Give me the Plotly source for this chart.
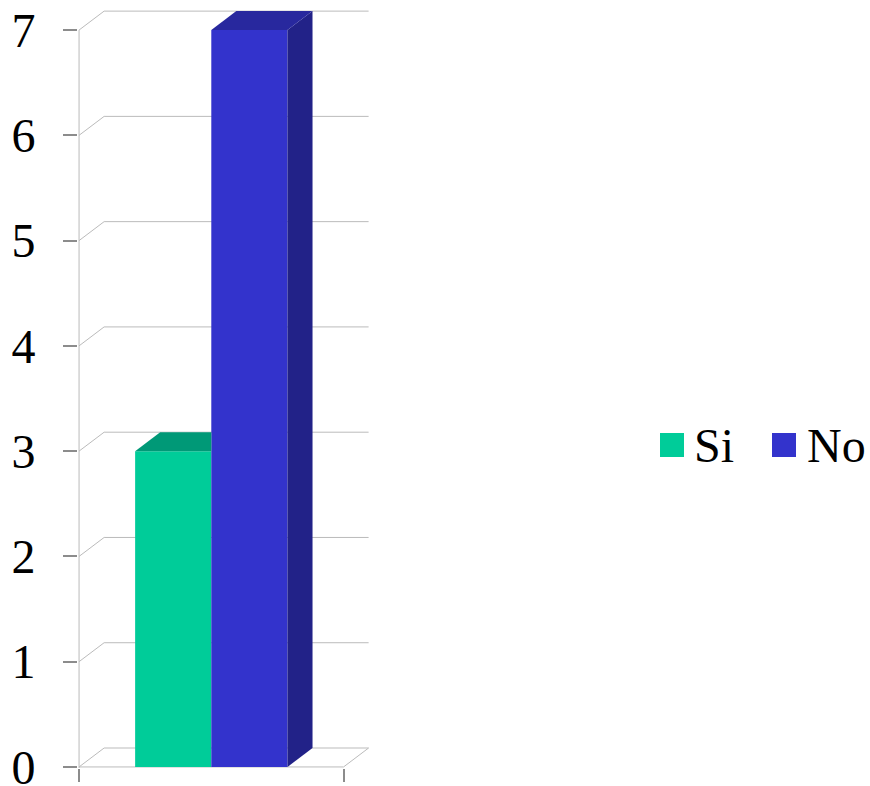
import plotly.graph_objects as go

# ---- data ----
series_names = ["Si", "No"]
series_values = [3, 7]
front_colors = ["#00CC99", "#3333CC"]
top_colors = ["#009977", "#28289E"]
side_colors = ["#007A5E", "#222288"]
y_tick_vals = [0, 1, 2, 3, 4, 5, 6, 7]
y_tick_text = ["0", "1", "2", "3", "4", "5", "6", "7"]

# ---- layout constants ----
W, H = 870, 786
ML, MR, MT, MB = 78, 500, 9, 18
X_RANGE = [-0.504, 0.6]
Y_RANGE = [-0.01, 7.2]
BARGAP = 0.424
DX = 0.0947   # depth offset (x units)
DY = 0.18     # depth offset (y units)
X_LEFT, X_RIGHT = -0.5, 0.5
GRID = "#BBBBBB"
FONT = "Liberation Serif, Times New Roman, serif"

fig = go.Figure()

group_w = 1 - BARGAP
bar_w = group_w / len(series_values)

# front faces as real bars
for name, val, col in zip(series_names, series_values, front_colors):
    fig.add_trace(go.Bar(x=[0], y=[val], name=name, marker=dict(color=col, line=dict(width=0)),
                         showlegend=False))

# 3D faces computed from the data
for i, (val, tcol, scol) in enumerate(zip(series_values, top_colors, side_colors)):
    x0 = -group_w / 2 + i * bar_w
    x1 = x0 + bar_w
    last = i == len(series_values) - 1
    if last:
        fig.add_trace(go.Scatter(x=[x1, x1 + DX, x1 + DX, x1, x1], y=[0, DY, val + DY, val, 0],
                                 mode="lines", fill="toself", fillcolor=scol, line=dict(width=0),
                                 hoverinfo="skip", showlegend=False))
        tx = [x0, x1, x1 + DX, x0 + DX, x0]
        ty = [val, val, val + DY, val + DY, val]
    else:
        tx = [x0, x1, x1, x0 + DX, x0]
        ty = [val, val, val + DY, val + DY, val]
    fig.add_trace(go.Scatter(x=tx, y=ty, mode="lines", fill="toself", fillcolor=tcol,
                             line=dict(width=0), hoverinfo="skip", showlegend=False))

shapes = []
for v in y_tick_vals:
    shapes.append(dict(type="line", xref="x", yref="y", x0=X_LEFT, y0=v, x1=X_LEFT + DX, y1=v + DY,
                       line=dict(color=GRID, width=1), layer="below"))
    shapes.append(dict(type="line", xref="x", yref="y", x0=X_LEFT + DX, y0=v + DY, x1=X_RIGHT + DX, y1=v + DY,
                       line=dict(color=GRID, width=1), layer="below"))
shapes.append(dict(type="line", xref="x", yref="y", x0=X_LEFT, y0=0, x1=X_RIGHT, y1=0,
                   line=dict(color=GRID, width=1), layer="below"))
shapes.append(dict(type="line", xref="x", yref="y", x0=X_RIGHT, y0=0, x1=X_RIGHT + DX, y1=DY,
                   line=dict(color=GRID, width=1), layer="below"))
shapes.append(dict(type="line", xref="x", yref="y", x0=X_LEFT, y0=Y_RANGE[0], x1=X_LEFT, y1=max(y_tick_vals),
                   line=dict(color=GRID, width=1), layer="below"))

pw = W - ML - MR
ph = H - MT - MB
def px(x):
    return (x - ML) / pw
def py(y):
    return (H - MB - y) / ph

annotations = []
legend_sq = [(660, 684), (772, 796)]
legend_tx = [692, 805]
for name, col, (a, b), tx in zip(series_names, front_colors, legend_sq, legend_tx):
    shapes.append(dict(type="rect", xref="paper", yref="paper", x0=px(a), x1=px(b), y0=py(457), y1=py(433),
                       fillcolor=col, line=dict(width=0)))
    annotations.append(dict(xref="paper", yref="paper", x=px(tx), y=py(446), text=name, showarrow=False,
                            xanchor="left", yanchor="middle", font=dict(family=FONT, size=48, color="black")))

fig.update_layout(
    width=W, height=H,
    margin=dict(l=ML, r=MR, t=MT, b=MB, pad=0, autoexpand=False),
    barmode="group", bargap=BARGAP,
    paper_bgcolor="white", plot_bgcolor="white",
    font=dict(family=FONT, size=48, color="black"),
    showlegend=False,
    shapes=shapes, annotations=annotations,
    xaxis=dict(range=X_RANGE, showgrid=False, zeroline=False, showline=False, automargin=False,
               tickmode="array", tickvals=[X_LEFT, X_RIGHT], ticktext=["", ""],
               ticks="outside", ticklen=13, tickwidth=2, tickcolor="#8C8C8C", fixedrange=True),
    yaxis=dict(range=Y_RANGE, showgrid=False, zeroline=False, showline=False, automargin=False,
               tickmode="array", tickvals=y_tick_vals, ticktext=y_tick_text,
               ticks="outside", ticklen=14, tickwidth=2, tickcolor="#8C8C8C",
               ticklabeloverflow="allow",
               ticklabelstandoff=18, tickfont=dict(family=FONT, size=48, color="black"), fixedrange=True),
)

fig.write_html("out.html", config={"displayModeBar": False},
               post_script="document.body.style.margin='0px';document.body.style.overflow='hidden';")
